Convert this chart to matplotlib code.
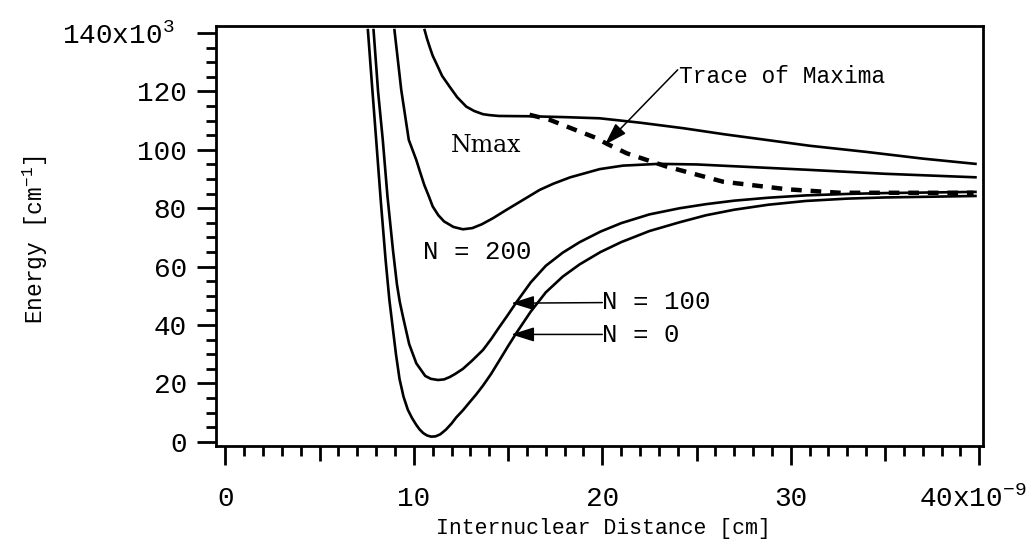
import matplotlib.pyplot as plt
from matplotlib.ticker import MultipleLocator
from matplotlib.transforms import ScaledTranslation

plt.rcParams['font.family'] = ['Liberation Mono', 'DejaVu Sans']
plt.rcParams['mathtext.default'] = 'regular'

# x in 1e-9 cm, energy in 1e3 cm^-1
n0_x = [7.56, 7.78, 8.0, 8.25, 8.5, 8.7, 8.89, 9.05, 9.24, 9.45, 9.68, 9.9, 10.13,
        10.3, 10.5, 10.7, 10.92, 11.15, 11.4, 11.7, 12.0, 12.25, 12.6, 12.96, 13.3,
        13.67, 14.1, 14.5, 15.0, 15.44, 16.2, 17.0, 17.9, 18.8, 19.9, 21.0, 22.5,
        24.1, 25.5, 27.0, 28.8, 30.8, 33.0, 35.0, 39.8]
n0_y = [141, 122, 103.4, 82, 62.3, 48.6, 38.5, 30.0, 21.5, 15.5, 11.0, 8.2, 5.8,
        4.3, 3.0, 2.2, 1.8, 1.9, 2.6, 4.2, 6.3, 8.4, 10.8, 13.6, 16.2,
        19.3, 23.3, 27.5, 32.8, 37.3, 44.6, 51.2, 56.6, 60.8, 65.0, 68.4, 72.2,
        75.2, 77.6, 79.5, 81.2, 82.5, 83.3, 83.7, 84.2]

n100_x = [7.86, 8.1, 8.35, 8.6, 8.89, 9.1, 9.25, 9.42, 9.75, 10.13, 10.6, 10.9, 11.28,
          11.6, 11.9, 12.2, 12.6, 13.1, 13.67, 14.1, 14.5, 15.0, 15.44, 16.2, 17.0,
          17.9, 18.8, 19.9, 21.0, 22.5, 24.1, 25.5, 27.0, 28.8, 30.8, 33.0, 35.0, 39.8]
n100_y = [141, 120, 103.4, 84, 65.7, 54, 48, 42.9, 33.5, 26.9, 22.6, 21.6, 21.2,
          21.4, 22.2, 23.3, 25.0, 27.9, 31.5, 35.2, 39.0, 43.6, 47.8, 54.6, 60.3,
          64.8, 68.4, 72.0, 74.9, 77.9, 80.0, 81.4, 82.6, 83.6, 84.4, 84.9, 85.2, 85.6]

n200_x = [8.97, 9.33, 9.73, 10.13, 10.3, 10.55, 10.8, 11.0, 11.3, 11.6, 12.1, 12.6,
          13.1, 13.6, 14.2, 14.9, 15.7, 16.68, 17.4, 18.3, 19.86, 21.1, 23.0, 25.0,
          30.8, 35.0, 39.8]
n200_y = [141, 120.5, 103.4, 96.5, 93.0, 88.0, 84.0, 80.6, 77.6, 75.5, 73.6, 72.8,
          73.2, 74.5, 76.6, 79.4, 82.5, 86.3, 88.4, 90.6, 93.4, 94.6, 95.2, 95.0,
          93.2, 91.8, 90.6]

nmax_x = [10.57, 10.7, 10.85, 11.0, 11.19, 11.5, 11.9, 12.3, 12.78, 13.2, 13.67, 14.0,
          14.5, 15.2, 16.14, 18.0, 19.86, 22.0, 24.3, 26.5, 28.7, 31.0, 34.0, 37.0, 39.8]
nmax_y = [141, 138, 135, 132.2, 129.6, 125.3, 121.6, 118, 114.8, 113.3, 112.2, 111.9,
          111.6, 111.55, 111.5, 111.2, 110.8, 109.3, 107.4, 105.3, 103.4, 101.4, 99.3,
          97.0, 95.2]

trace_x = [16.14, 17.2, 18.5, 19.7, 20.2, 21.3, 23.4, 26.4, 29.8, 32.6, 39.7]
trace_y = [112, 110.3, 107, 104, 102.2, 98.8, 94.3, 89.1, 86.5, 85.3, 85.3]

xtick_vals = [0, 5, 10, 15, 20, 25, 30, 35, 40]
xtick_text = ['0', '', '10', '', '20', '', '30', '', '40x10$^{-9}$']
ytick_vals = [0, 20, 40, 60, 80, 100, 120, 140]
ytick_text = ['0', '20', '40', '60', '80', '100', '120', '140x10$^{3}$']

fig = plt.figure(figsize=(10.28, 5.41), dpi=100)
ax = fig.add_axes([216/1028, 1-446/541, (983-216)/1028, (446-26)/541])

for xs, ys in [(n0_x, n0_y), (n100_x, n100_y), (n200_x, n200_y), (nmax_x, nmax_y)]:
    ax.plot(xs, ys, color='black', lw=1.9, solid_joinstyle='round')
ax.plot(trace_x, trace_y, color='black', lw=3.2, linestyle=(0, (2.4, 2.0)))

ax.set_xlim(-0.5, 40.2)
ax.set_ylim(-1.4, 142.4)

ax.set_xticks(xtick_vals)
ax.set_xticklabels(xtick_text)
ax.xaxis.set_minor_locator(MultipleLocator(1))
ax.set_yticks(ytick_vals)
ax.set_yticklabels(ytick_text)
ax.yaxis.set_minor_locator(MultipleLocator(5))

ax.tick_params(axis='both', which='major', direction='out', length=14, width=2, labelsize=20)
ax.tick_params(axis='both', which='minor', direction='out', length=7, width=2)
ax.tick_params(axis='x', which='major', pad=15)
ax.tick_params(axis='y', which='major', pad=7)
for v, t in zip(xtick_vals, ax.xaxis.get_major_ticks()):
    if v % 10 != 0:
        t.tick1line.set_markersize(11)
for s in ax.spines.values():
    s.set_linewidth(2)

# the labels carrying the exponent sit a bit to the left
lbl = ax.get_xticklabels()[-1]
lbl.set_transform(lbl.get_transform() + ScaledTranslation(-0.06, 0, fig.dpi_scale_trans))
lbl = ax.get_yticklabels()[-1]
lbl.set_transform(lbl.get_transform() + ScaledTranslation(-0.12, 0, fig.dpi_scale_trans))

ax.set_xlabel('Internuclear Distance [cm]', fontsize=15.5)
ax.xaxis.set_label_coords(0.505, -0.172)
ax.set_ylabel('Energy [cm$^{-1}$]', fontsize=16.5)
ax.yaxis.set_label_coords(-0.216, 0.49)

arrow = dict(arrowstyle='-|>,head_length=0.7,head_width=0.22', color='black', lw=1.1,
             mutation_scale=20, shrinkA=0, shrinkB=0)
ax.annotate('', xy=(20.13, 101.7), xytext=(24.0, 127.4), arrowprops=arrow)
ax.text(24.05, 125, 'Trace of Maxima', fontsize=16.5, ha='left', va='center')
ax.text(11.98, 101.6, 'Nmax', fontsize=17, family='DejaVu Serif', ha='left', va='center')
ax.text(10.46, 65.0, 'N = 200', fontsize=18.5, ha='left', va='center')
ax.annotate('', xy=(15.17, 47.5), xytext=(20.0, 47.7), arrowprops=arrow)
ax.text(20.0, 47.9, 'N = 100', fontsize=18.5, ha='left', va='center')
ax.annotate('', xy=(15.17, 36.8), xytext=(20.0, 36.8), arrowprops=arrow)
ax.text(20.0, 36.6, 'N = 0', fontsize=18.5, ha='left', va='center')

plt.savefig('out.png', dpi=100)
plt.close()
